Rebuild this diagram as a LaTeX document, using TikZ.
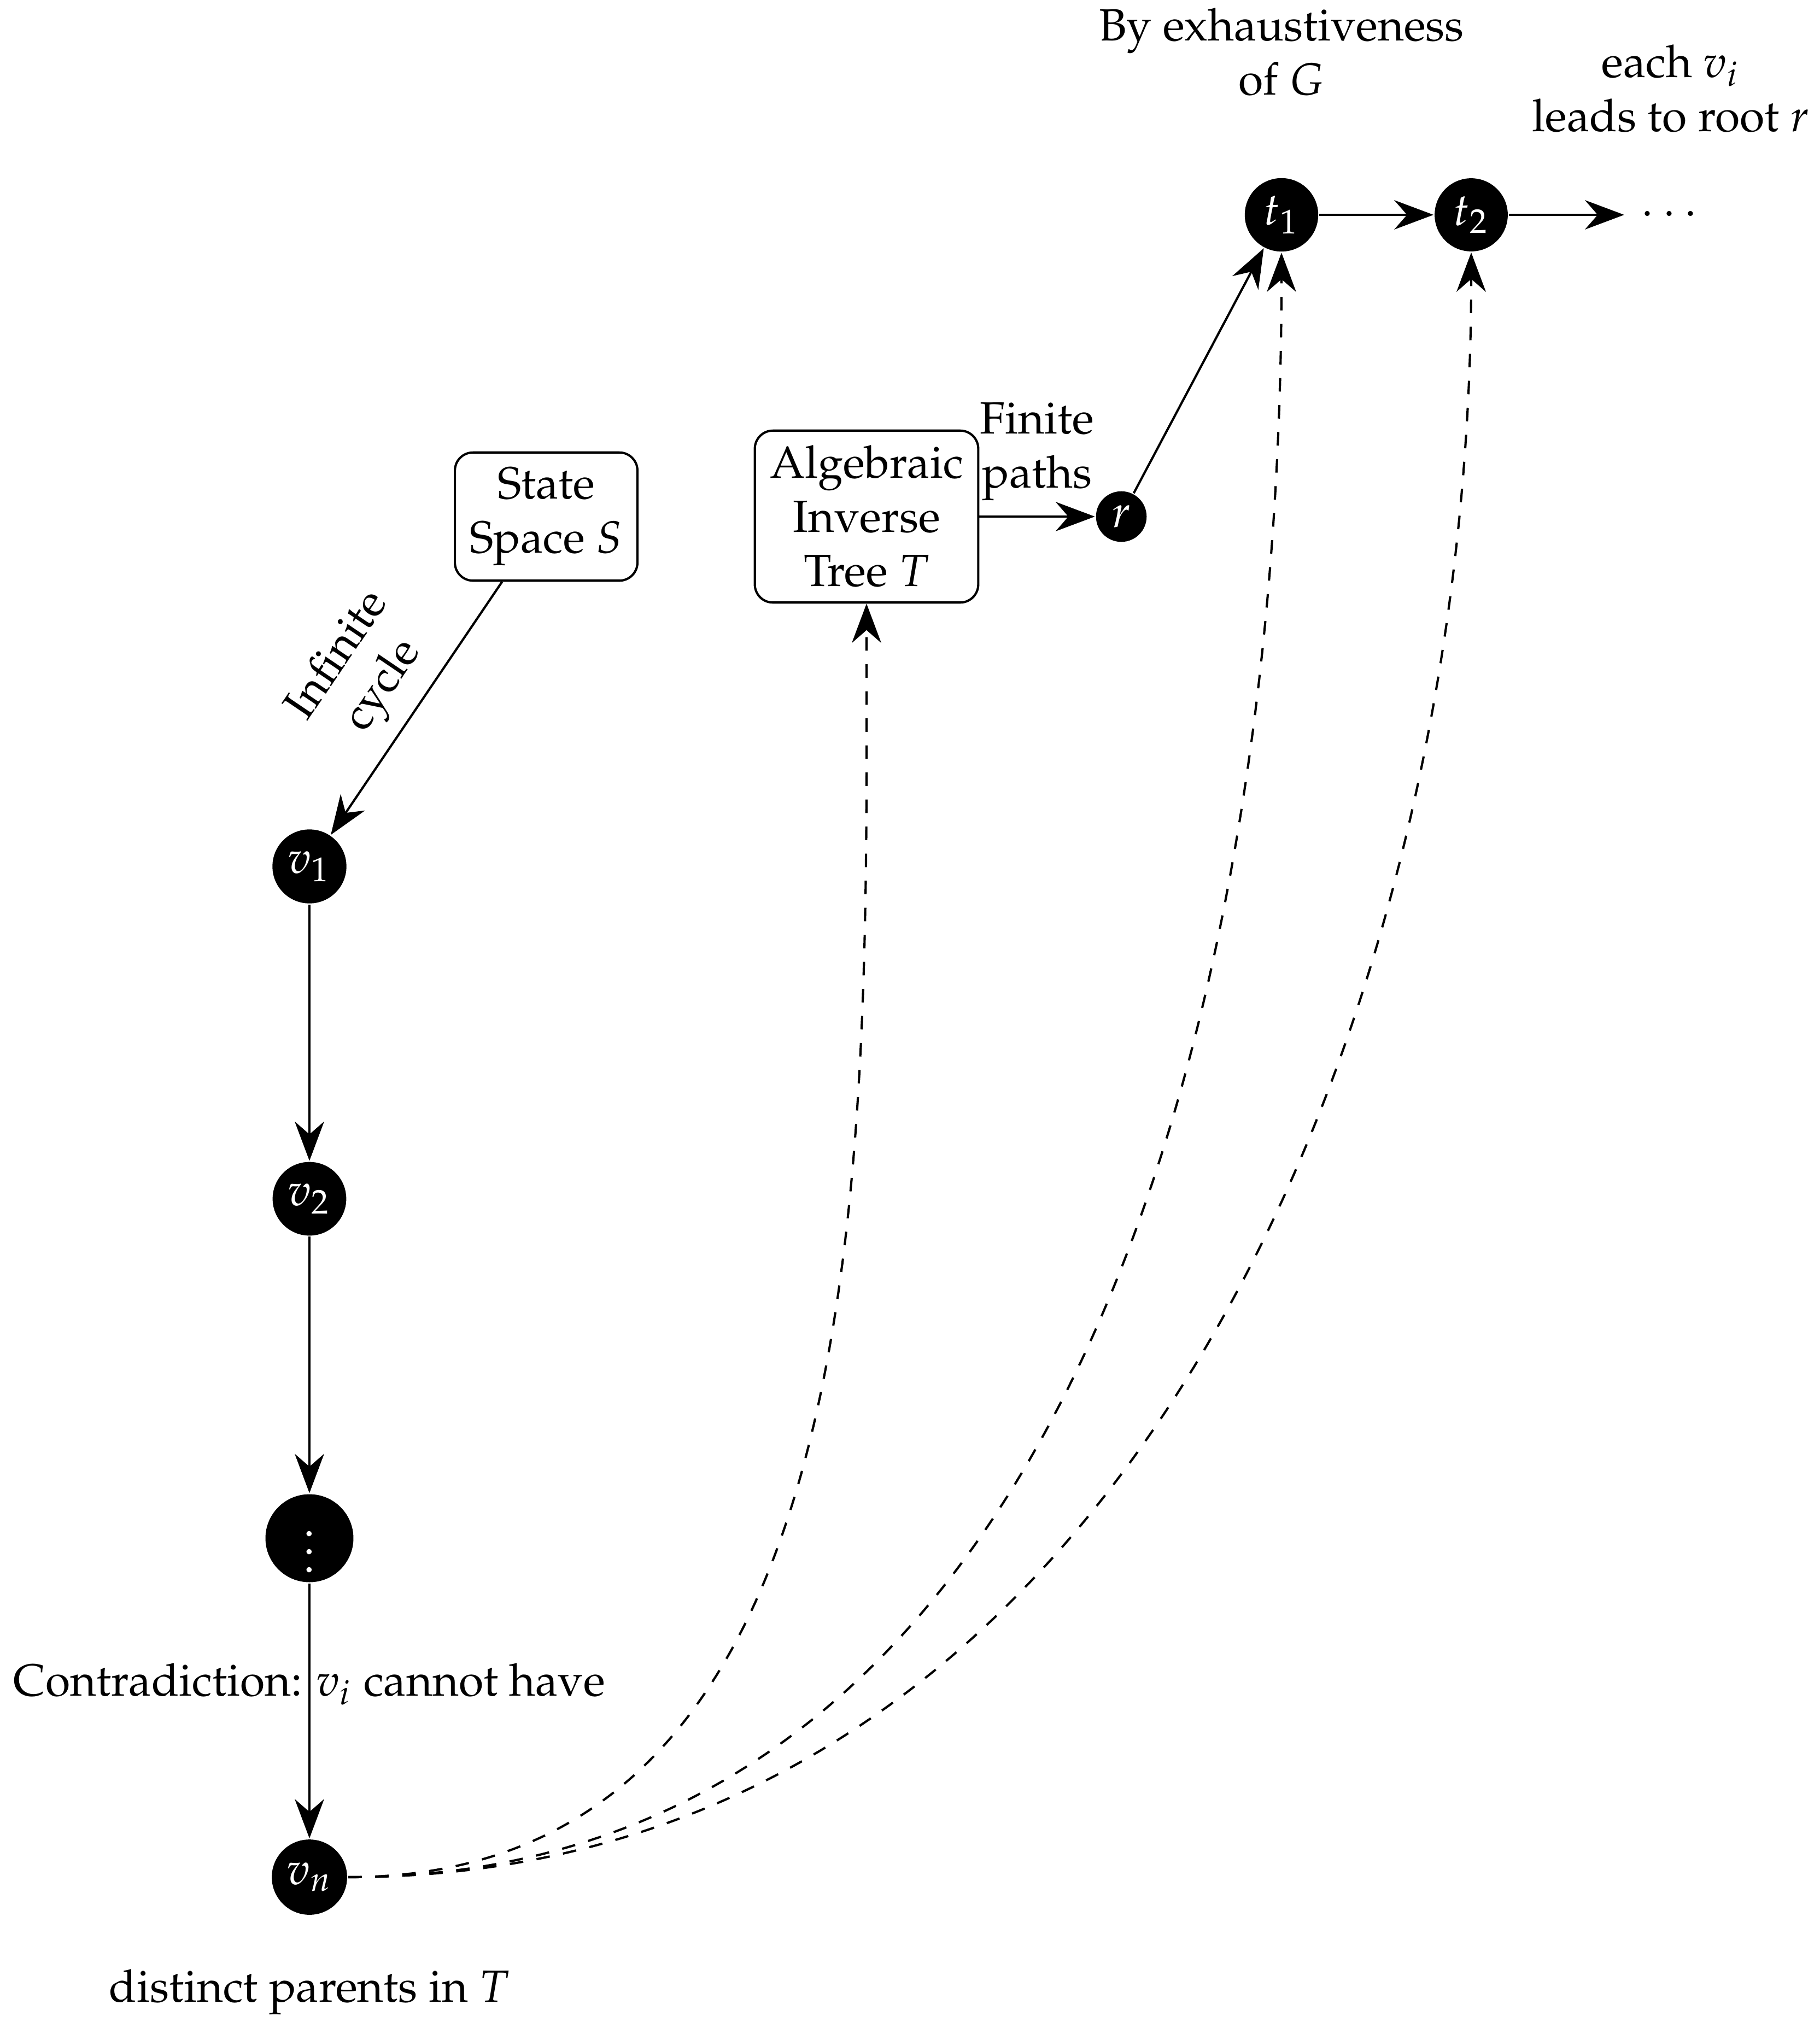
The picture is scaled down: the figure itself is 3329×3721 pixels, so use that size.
\documentclass[tikz,border=0pt]{standalone}
\usepackage[T1]{fontenc}
\usepackage{mathpazo}
\usetikzlibrary{arrows.meta}
\begin{document}
\begin{tikzpicture}[x=0.121212pt,y=-0.121212pt, line width=0.5pt,
  >={Stealth[length=8.7pt,width=6.5pt]},
  dot/.style={circle, fill=black, text=white, inner sep=1.7pt},
  box/.style={draw, rounded corners=4pt, align=center},
  lbl/.style={align=center}]
\useasboundingbox (0,0) rectangle (3329,3721);
% nodes
\node[box] (S) at (999,945) {State\\Space $S$};
\node[box] (A) at (1585,945) {Algebraic\\Inverse\\Tree $T$};
\node[dot] (r) at (2051,945) {$r$};
\node[dot] (t1) at (2344,393) {$t_1$};
\node[dot] (t2) at (2691,393) {$t_2$};
\node (dd) at (3053,393) {$\cdots$};
\node[dot] (v1) at (566,1585) {$v_1$};
\node[dot] (v2) at (566,2193) {$v_2$};
\node[dot] (vd) at (566,2814) {$\vdots$};
\node[dot] (vn) at (566,3434) {$v_n$};
% free texts
\node[lbl] (ex) at (2344,95) {By exhaustiveness\\of $G$};
\node[lbl] (each) at (3056,162) {each $v_i$\\leads to root $r$};
\node[anchor=base] (contra) at (566,3102) {Contradiction: $v_i$ cannot have};
\node[anchor=base] (dist) at (566,3662) {distinct parents in $T$};
% edges
\draw[->] (S) -- node[sloped, above, align=center] {Infinite\\cycle} (v1);
\draw[->] (A) -- node[above, align=center] {Finite\\paths} (r);
\draw[->] (r) -- (t1);
\draw[->] (t1) -- (t2);
\draw[->] (t2) -- (dd);
\draw[->] (v1) -- (v2);
\draw[->] (v2) -- (vd);
\draw[->] (vd) -- (vn);
% dashed curves
\draw[->, dashed] (vn.east) .. controls (1619,3434) and (1585,2089) .. (A.south);
\draw[->, dashed] (vn.east) .. controls (1977,3434) and (2344,1803) .. (t1.south);
\draw[->, dashed] (vn.east) .. controls (2050,3434) and (2691,1876) .. (t2.south);
\end{tikzpicture}
\end{document}
